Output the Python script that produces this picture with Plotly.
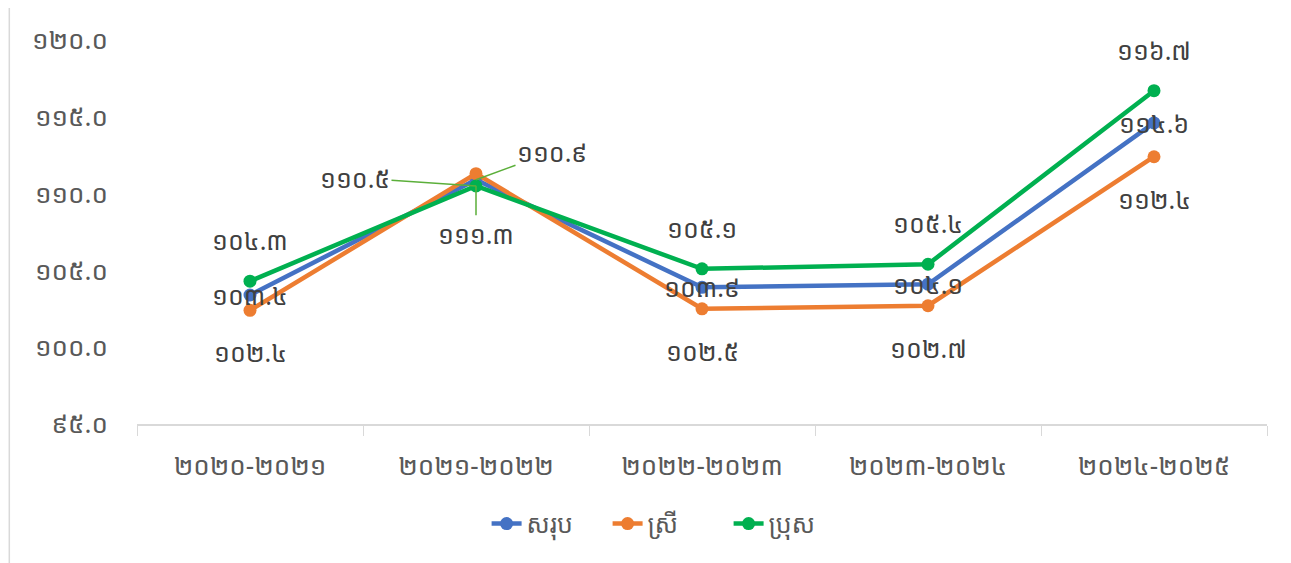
"""Khmer line chart: ratio by year, total / female / male."""

import plotly.graph_objects as go

KHMER_DIGITS = str.maketrans("0123456789", "០១២៣៤៥៦៧៨៩")


def kh(num: float) -> str:
    return f"{num:.1f}".translate(KHMER_DIGITS)


years = ["២០២០-២០២១", "២០២១-២០២២", "២០២២-២០២៣", "២០២៣-២០២៤", "២០២៤-២០២៥"]
total = [103.4, 110.9, 103.9, 104.1, 114.6]
female = [102.4, 111.3, 102.5, 102.7, 112.4]
male = [104.3, 110.5, 105.1, 105.4, 116.7]
y_ticks = [95, 100, 105, 110, 115, 120]

SERIES = [
    ("សរុប", total, "#4472C4", 0),
    ("ស្រី", female, "#ED7D31", -42),
    ("ប្រុស", male, "#00B050", 41),
]

FONT = "Noto Sans Khmer, Khmer OS, DejaVu Sans, sans-serif"
LABEL_COLOR = "#404040"
TICK_COLOR = "#595959"
LEADER = "#5BAF3A"
LABEL_FONT = dict(size=25, color=LABEL_COLOR, family=FONT)

fig = go.Figure()
for name, vals, color, _ in SERIES:
    fig.add_trace(go.Scatter(
        x=years, y=vals, name=name, mode="lines+markers",
        line=dict(color=color, width=4.5),
        marker=dict(color=color, size=13),
    ))

annotations = []
for name, vals, color, shift in SERIES:
    for i, (yr, v) in enumerate(zip(years, vals)):
        if i == 1:
            continue  # middle year labels use leader lines below
        annotations.append(dict(
            x=yr, y=v, text=kh(v), showarrow=False, yshift=shift, font=LABEL_FONT,
        ))

# crowded 2021-2022 point: labels pulled out with leader lines
mid = years[1]
annotations += [
    dict(x=mid, y=male[1], text=kh(male[1]), ax=-121, ay=-8,
         showarrow=True, arrowhead=0, arrowwidth=1.5, arrowcolor=LEADER, font=LABEL_FONT),
    dict(x=mid, y=total[1], text=kh(total[1]), ax=76, ay=-28,
         showarrow=True, arrowhead=0, arrowwidth=1.5, arrowcolor=LEADER, font=LABEL_FONT),
    dict(x=mid, y=female[1], text=kh(female[1]), ax=0, ay=60, standoff=12,
         showarrow=True, arrowhead=0, arrowwidth=1.5, arrowcolor=LEADER, font=LABEL_FONT),
]

# page body has an 8px margin, so the figure is shrunk by that much
fig.update_layout(
    width=1283, height=555,
    margin=dict(l=129, r=24, t=32, b=139),
    plot_bgcolor="white", paper_bgcolor="white",
    font=dict(family=FONT, color=TICK_COLOR, size=24),
    showlegend=True,
    legend=dict(orientation="h", x=0.47, xanchor="center", y=-0.26, yanchor="middle",
                font=dict(size=25, color=TICK_COLOR),
                entrywidth=76, entrywidthmode="pixels"),
    xaxis=dict(
        type="category", range=[-0.5, 4.5], showgrid=False,
        showline=True, linecolor="#D9D9D9", linewidth=1.5,
        ticks="outside", tickson="boundaries", ticklen=10, tickcolor="#D9D9D9",
        tickfont=dict(size=26, color=TICK_COLOR), ticklabelstandoff=18,
    ),
    yaxis=dict(
        range=[95, 120], tickvals=y_ticks, ticktext=[kh(t) for t in y_ticks],
        showgrid=False, zeroline=False, showline=False,
        tickfont=dict(size=26, color=TICK_COLOR), ticklabelstandoff=28,
    ),
    annotations=annotations,
    shapes=[dict(type="rect", xref="paper", yref="paper",
                 x0=-0.113, x1=1.0186, y0=-0.5, y1=1.085,
                 line=dict(color="#D9D9D9", width=1.5))],
)

fig.write_html("out.html")
